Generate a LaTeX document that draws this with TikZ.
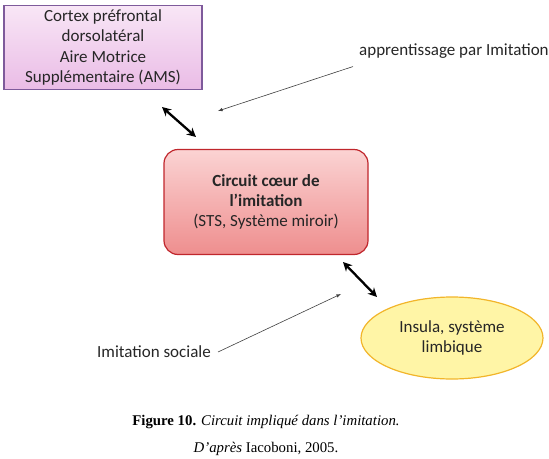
\documentclass[tikz,border=0pt]{standalone}
\usepackage{fontspec}
\setmainfont{Carlito}
\newfontfamily\capfont{Liberation Serif}
\usetikzlibrary{arrows,arrows.meta,shapes,positioning}

\definecolor{amsborder}{HTML}{7E5A9B}
\definecolor{amstop}{HTML}{F8E6F6}
\definecolor{amsbottom}{HTML}{EABCE6}
\definecolor{coeurborder}{HTML}{C0262C}
\definecolor{coeurtop}{HTML}{FBD3D3}
\definecolor{coeurbottom}{HTML}{EE8E8E}
\definecolor{insulaborder}{HTML}{F2B52A}
\definecolor{insulafill}{HTML}{FFF5A6}
\definecolor{textgrey}{HTML}{262626}

\begin{document}
\begin{tikzpicture}[
  x=1pt, y=-1pt,
  >=latex,
  every node/.style={font=\fontsize{17}{20.3}\selectfont, align=center, text=textgrey},
  zone/.style={draw=amsborder, line width=1.2pt, top color=amstop, bottom color=amsbottom,
    minimum width=198pt, minimum height=84pt, inner sep=0pt},
  coeur/.style={draw=coeurborder, line width=1.2pt, rounded corners=14pt, top color=coeurtop,
    bottom color=coeurbottom, minimum width=204pt, minimum height=105pt},
  insula/.style={ellipse, draw=insulaborder, line width=1.2pt, fill=insulafill,
    minimum width=182pt, minimum height=82pt, inner sep=0pt},
  influence/.style={->, draw=black!75, line width=0.6pt},
  lien/.style={{Stealth[length=9pt,width=9pt]}-{Stealth[length=9pt,width=9pt]}, line width=2.3pt},
  ]
  \useasboundingbox (0,0) rectangle (549,458);

  \node[zone] (AMS) at (103,47.5) {Cortex préfrontal\\ dorsolatéral\\ Aire Motrice\\ Supplémentaire (AMS)};
  \node[coeur] (Coeur) at (266,202) {\textbf{Circuit cœur de}\\ \textbf{l’imitation}\\ (STS, Système miroir)};
  \node[insula] (Insula) at (452,338) {Insula, système\\ limbique};

  \node[anchor=west, inner sep=0pt] (Appr) at (359,51) {apprentissage par Imitation};
  \node[anchor=east, inner sep=0pt] (Soc) at (211,352) {Imitation sociale};

  \coordinate (a1) at (162,107);
  \coordinate (a2) at (196,137);
  \coordinate (b1) at (343,262);
  \coordinate (b2) at (377,297);
  \coordinate (c1) at (218,111);
  \coordinate (d1) at (341,294);

  \draw [lien] (a1) -- (a2);
  \draw [lien] (b1) -- (b2);
  \draw [influence] ([xshift=-6pt,yshift=-8pt]Appr.south west) -- (c1);
  \draw [influence] ([xshift=7pt]Soc.east) -- (d1);

  \node[font=\capfont\fontsize{14.8}{27}\selectfont, text=black] (Legende) at (266,435)
    {\textbf{Figure 10.} \textit{Circuit impliqué dans l’imitation.}\\ \textit{D’après} Iacoboni, 2005.};
\end{tikzpicture}
\end{document}
